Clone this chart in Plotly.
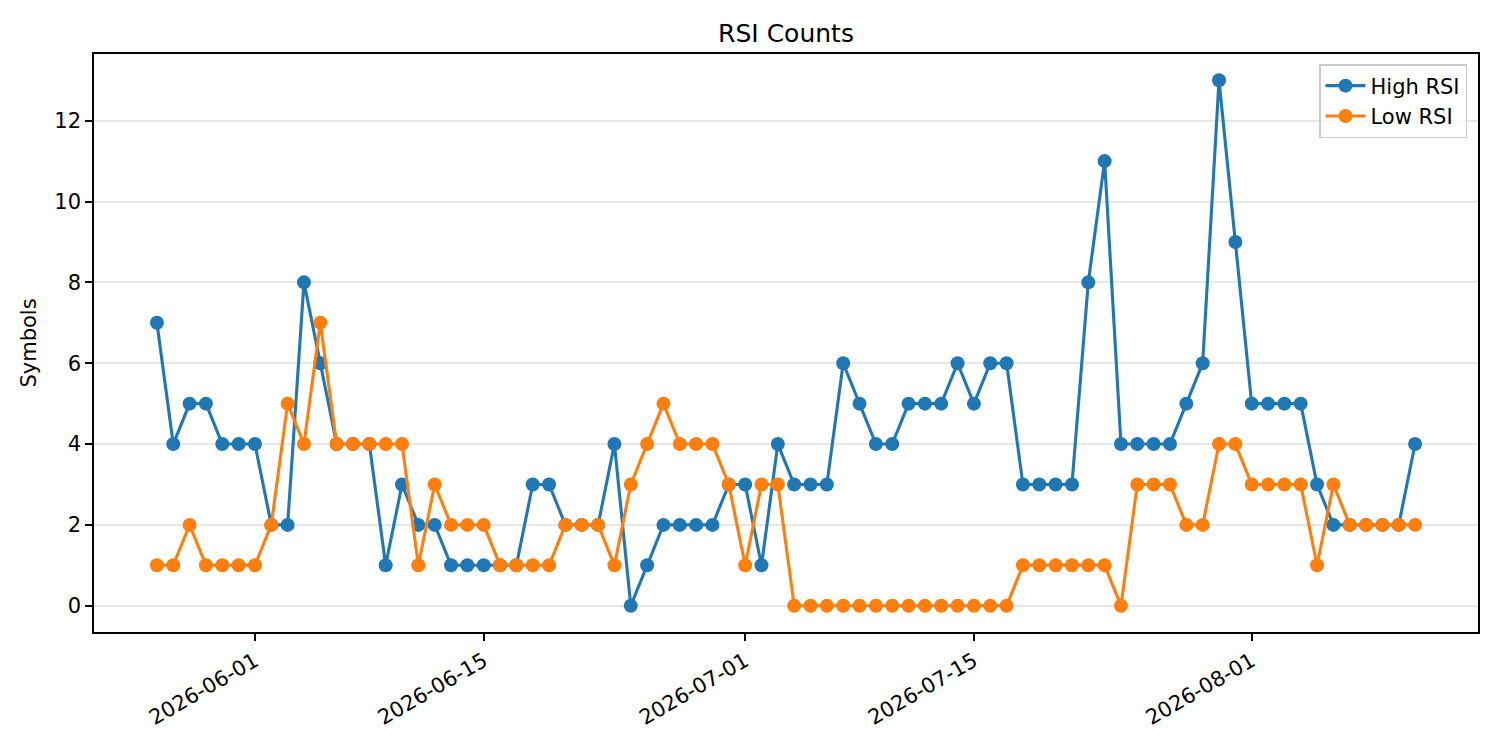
import pandas as pd
import plotly.graph_objects as go

start_date = "2026-05-26"
high_rsi = [7, 4, 5, 5, 4, 4, 4, 2, 2, 8, 6, 4, 4, 4, 1, 3, 2, 2, 1, 1,
            1, 1, 1, 3, 3, 2, 2, 2, 4, 0, 1, 2, 2, 2, 2, 3, 3, 1, 4, 3,
            3, 3, 6, 5, 4, 4, 5, 5, 5, 6, 5, 6, 6, 3, 3, 3, 3, 8, 11, 4,
            4, 4, 4, 5, 6, 13, 9, 5, 5, 5, 5, 3, 2, 2, 2, 2, 2, 4]
low_rsi = [1, 1, 2, 1, 1, 1, 1, 2, 5, 4, 7, 4, 4, 4, 4, 4, 1, 3, 2, 2,
           2, 1, 1, 1, 1, 2, 2, 2, 1, 3, 4, 5, 4, 4, 4, 3, 1, 3, 3, 0,
           0, 0, 0, 0, 0, 0, 0, 0, 0, 0, 0, 0, 0, 1, 1, 1, 1, 1, 1, 0,
           3, 3, 3, 2, 2, 4, 4, 3, 3, 3, 3, 1, 3, 2, 2, 2, 2, 2]
dates = pd.date_range(start_date, periods=len(high_rsi), freq="D")
tick_dates = ["2026-06-01", "2026-06-15", "2026-07-01", "2026-07-15", "2026-08-01"]
y_ticks = [0, 2, 4, 6, 8, 10, 12]

FONT = "DejaVu Sans"
# page body has an 8px margin; compensate so the plot box lands where the reference has it
OFF = 8
L, R, T, B = 94, 1478, 54, 632

fig = go.Figure()
fig.add_trace(go.Scatter(x=dates, y=high_rsi, mode="lines+markers", name="High RSI",
                         line=dict(color="#1f77b4", width=3.1),
                         marker=dict(color="#1f77b4", size=14)))
fig.add_trace(go.Scatter(x=dates, y=low_rsi, mode="lines+markers", name="Low RSI",
                         line=dict(color="#ff7f0e", width=3.1),
                         marker=dict(color="#ff7f0e", size=14)))

span = (dates[-1] - dates[0])
pad = span * 0.05
fig.update_layout(
    width=1500, height=750,
    margin=dict(l=L - OFF, r=1500 - R + OFF, t=T - OFF, b=750 - B + OFF),
    paper_bgcolor="white", plot_bgcolor="white",
    font=dict(family=FONT, size=21, color="black"),
    title=dict(text="RSI Counts", x=((L + R) / 2 - OFF) / 1500, xanchor="center",
               y=1 - (33 - OFF) / 750, yanchor="middle", font=dict(size=25, family=FONT)),
    showlegend=True,
    legend=dict(x=(1467 - L) / (R - L), xanchor="right",
                y=1 - (64 - T) / (B - T), yanchor="top",
                bgcolor="rgba(255,255,255,0.8)", bordercolor="#cccccc", borderwidth=1.5,
                font=dict(size=21, family=FONT), itemwidth=40, tracegroupgap=2),
    xaxis=dict(range=[dates[0] - pad, dates[-1] + pad], type="date",
               tickvals=tick_dates, ticktext=tick_dates, tickangle=-30,
               ticks="outside", ticklen=7, tickwidth=1.6, tickcolor="black",
               showline=True, linecolor="black", linewidth=1.6, mirror=True,
               showgrid=False, zeroline=False, tickfont=dict(size=21)),
    yaxis=dict(range=[-0.65, 13.65], tickvals=y_ticks,
               ticks="outside", ticklen=7, tickwidth=1.6, tickcolor="black",
               showline=True, linecolor="black", linewidth=1.6, mirror=True,
               showgrid=True, gridcolor="#e7e7e7", gridwidth=1.6, zeroline=False,
               tickfont=dict(size=21),
               title=dict(text="Symbols", font=dict(size=21), standoff=12)),
)
fig.write_html("out.html")
